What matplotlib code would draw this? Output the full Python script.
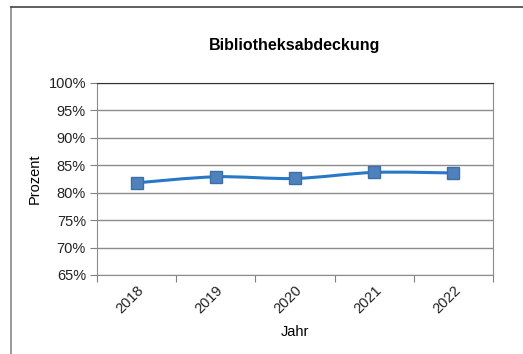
import matplotlib.pyplot as plt
from matplotlib.lines import Line2D
from matplotlib.path import Path
from matplotlib.patches import PathPatch
from matplotlib.ticker import FixedLocator, PercentFormatter

plt.rcParams['font.family'] = ['Liberation Sans', 'DejaVu Sans']

# data
jahre = ['2018', '2019', '2020', '2021', '2022']
prozent = [81.8, 82.9, 82.6, 83.7, 83.6]

fig = plt.figure(figsize=(5.23, 3.54), dpi=100)
fig.patch.set_facecolor('white')

# outer chart frame (left and top edges visible)
fig.add_artist(Line2D([11 / 523, 11 / 523], [0, 1 - 7 / 354], transform=fig.transFigure, color='#888888', lw=1.2))
fig.add_artist(Line2D([11 / 523, 1], [1 - 7 / 354, 1 - 7 / 354], transform=fig.transFigure, color='#444444', lw=1.2))

ax = fig.add_axes([97 / 523, 1 - 275 / 354, 396 / 523, 192 / 354])

x = list(range(len(jahre)))

# smoothed line (Catmull-Rom as bezier segments)
verts = [(x[0], prozent[0])]
codes = [Path.MOVETO]
n = len(x)
for i in range(n - 1):
    p0 = (x[max(i - 1, 0)], prozent[max(i - 1, 0)])
    p1 = (x[i], prozent[i])
    p2 = (x[i + 1], prozent[i + 1])
    p3 = (x[min(i + 2, n - 1)], prozent[min(i + 2, n - 1)])
    c1 = (p1[0] + (p2[0] - p0[0]) / 6, p1[1] + (p2[1] - p0[1]) / 6)
    c2 = (p2[0] - (p3[0] - p1[0]) / 6, p2[1] - (p3[1] - p1[1]) / 6)
    verts += [c1, c2, p2]
    codes += [Path.CURVE4] * 3
ax.add_patch(PathPatch(Path(verts, codes), facecolor='none', edgecolor='#2878C8', lw=2.2, zorder=3))
ax.plot(x, prozent, linestyle='none', marker='s', markersize=9, markerfacecolor='#4F81BD',
        markeredgecolor='#3C6FA8', markeredgewidth=1, zorder=4)

ax.set_xlim(-0.5, 4.5)
ax.set_ylim(65, 100)
ax.set_yticks(range(65, 101, 5))
ax.yaxis.set_major_formatter(PercentFormatter(decimals=0))
ax.grid(axis='y', color='#8c8c8c', lw=1)
ax.set_axisbelow(True)

ax.xaxis.set_major_locator(FixedLocator([i - 0.5 for i in range(6)]))
ax.xaxis.set_minor_locator(FixedLocator(x))
ax.set_xticklabels([], minor=False)
ax.set_xticklabels(jahre, minor=True, rotation=45, ha='right', va='top', rotation_mode='anchor')
ax.tick_params(axis='x', which='minor', length=0, pad=6, labelsize=10.5, colors='#222222')
ax.tick_params(axis='x', which='major', length=5, color='#808080')
ax.tick_params(axis='y', length=5, color='#808080', labelsize=10.5, labelcolor='#222222', pad=3)

for s in ['left', 'bottom', 'right']:
    ax.spines[s].set_color('#8c8c8c')
ax.spines['top'].set_color('#333333')

ax.set_title('Bibliotheksabdeckung', fontsize=11.5, fontweight='bold', pad=24)
ax.set_ylabel('Prozent', fontsize=10.5, labelpad=5)
ax.set_xlabel('Jahr', fontsize=10.5, labelpad=6)

plt.savefig('out.png', dpi=100)
